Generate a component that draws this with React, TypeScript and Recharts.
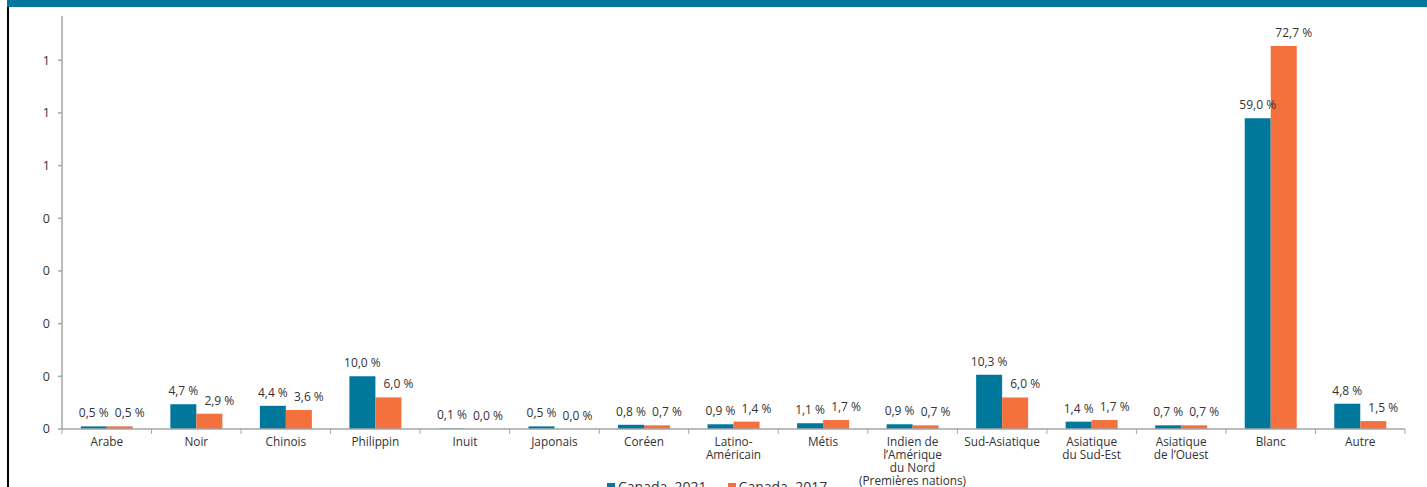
import React from 'react';
import { BarChart, Bar, XAxis, YAxis, LabelList } from 'recharts';

const CATEGORIES = [
  'Arabe',
  'Noir',
  'Chinois',
  'Philippin',
  'Inuit',
  'Japonais',
  'Coréen',
  'Latino-\nAméricain',
  'Métis',
  "Indien de\nl’Amérique\ndu Nord\n(Premières nations)",
  'Sud-Asiatique',
  'Asiatique\ndu Sud-Est',
  "Asiatique\nde l’Ouest",
  'Blanc',
  'Autre',
];

const CANADA_2021 = [0.5, 4.7, 4.4, 10.0, 0.1, 0.5, 0.8, 0.9, 1.1, 0.9, 10.3, 1.4, 0.7, 59.0, 4.8];
const CANADA_2017 = [0.5, 2.9, 3.6, 6.0, 0.0, 0.0, 0.7, 1.4, 1.7, 0.7, 6.0, 1.7, 0.7, 72.7, 1.5];

const Y_TICKS = [0, 10, 20, 30, 40, 50, 60, 70];

const TEAL = '#00789c';
const ORANGE = '#f4703c';
const AXIS = '#a6a6a6';
const TEXT = '#333333';
const FONT = '"Open Sans", "Liberation Sans", sans-serif';

const W = 1427;
const H = 487;
const MARGIN = { top: 16, right: 22, left: 2, bottom: 0 };
const Y_AXIS_W = 60;
const BAND = (W - MARGIN.left - MARGIN.right - Y_AXIS_W) / CATEGORIES.length;

const data = CATEGORIES.map((name, i) => ({
  name,
  c2021: CANADA_2021[i],
  c2017: CANADA_2017[i],
}));

const pct = (v: number) => `${v.toFixed(1).replace('.', ',')}\u00a0%`;
// keep a hairline rect for 0 values so their labels still get drawn
const zeroMin = (v: any) => (Number(v) === 0 ? 0.01 : 0);

function CategoryTick(props: any) {
  const { x, y, payload, index } = props;
  const lines = String(payload.value).split('\n');
  const isLast = index === CATEGORIES.length - 1;
  return (
    <g>
      <line x1={x - BAND / 2} x2={x - BAND / 2} y1={y - 8} y2={y - 3} stroke={AXIS} />
      {isLast && <line x1={x + BAND / 2} x2={x + BAND / 2} y1={y - 8} y2={y - 3} stroke={AXIS} />}
      {lines.map((l, i) => (
        <text
          key={i}
          x={x}
          y={y + 9 + i * 12.9}
          textAnchor="middle"
          fontSize={11.8}
          fill={TEXT}
          fontFamily={FONT}
        >
          {l}
        </text>
      ))}
    </g>
  );
}

function ValueLabel(props: any) {
  const { x, y, width, value, shift } = props;
  return (
    <text
      x={x + width / 2 + (shift || 0)}
      y={y - 9}
      textAnchor="middle"
      fontSize={12}
      fill={TEXT}
      fontFamily={FONT}
    >
      {pct(Number(value))}
    </text>
  );
}

export default function App() {
  return (
    <div style={{ position: 'fixed', left: 0, top: 0, width: W, height: H, background: '#fff', overflow: 'hidden' }}>
      <div style={{ position: 'absolute', left: 7, top: 0, width: W - 7, height: 7, background: TEAL }} />
      <div style={{ position: 'absolute', left: 7, top: 7, width: 1.5, height: H - 7, background: '#000' }} />
      <BarChart
        width={W}
        height={H}
        data={data}
        margin={MARGIN}
        barCategoryGap="21%"
        barGap={0}
        style={{ position: 'absolute', left: 0, top: 0 }}
      >
        <XAxis
          dataKey="name"
          interval={0}
          height={58}
          stroke={AXIS}
          strokeWidth={1.5}
          tickLine={false}
          tick={<CategoryTick />}
        />
        <YAxis
          width={Y_AXIS_W}
          domain={[0, 78.4]}
          ticks={Y_TICKS}
          allowDataOverflow
          stroke={AXIS}
          strokeWidth={1.5}
          tickSize={4}
          tickMargin={8}
          tick={{ fontSize: 12.5, fill: TEXT, fontFamily: FONT }}
          tickFormatter={(v: number) => (v / 100).toFixed(0)}
        />
        <Bar dataKey="c2021" fill={TEAL} minPointSize={zeroMin} isAnimationActive={false}>
          <LabelList dataKey="c2021" content={<ValueLabel shift={0} />} />
        </Bar>
        <Bar dataKey="c2017" fill={ORANGE} minPointSize={zeroMin} isAnimationActive={false}>
          <LabelList dataKey="c2017" content={<ValueLabel shift={10} />} />
        </Bar>
      </BarChart>
      <div
        style={{
          position: 'absolute',
          left: 607,
          top: 477,
          display: 'flex',
          gap: 21,
          fontFamily: FONT,
          fontSize: 14,
          color: TEXT,
          whiteSpace: 'nowrap',
        }}
      >
        <span style={{ display: 'flex', alignItems: 'center', gap: 3 }}>
          <span style={{ width: 8, height: 8, background: TEAL, display: 'inline-block' }} />
          Canada, 2021
        </span>
        <span style={{ display: 'flex', alignItems: 'center', gap: 3 }}>
          <span style={{ width: 8, height: 8, background: ORANGE, display: 'inline-block' }} />
          Canada, 2017
        </span>
      </div>
    </div>
  );
}
